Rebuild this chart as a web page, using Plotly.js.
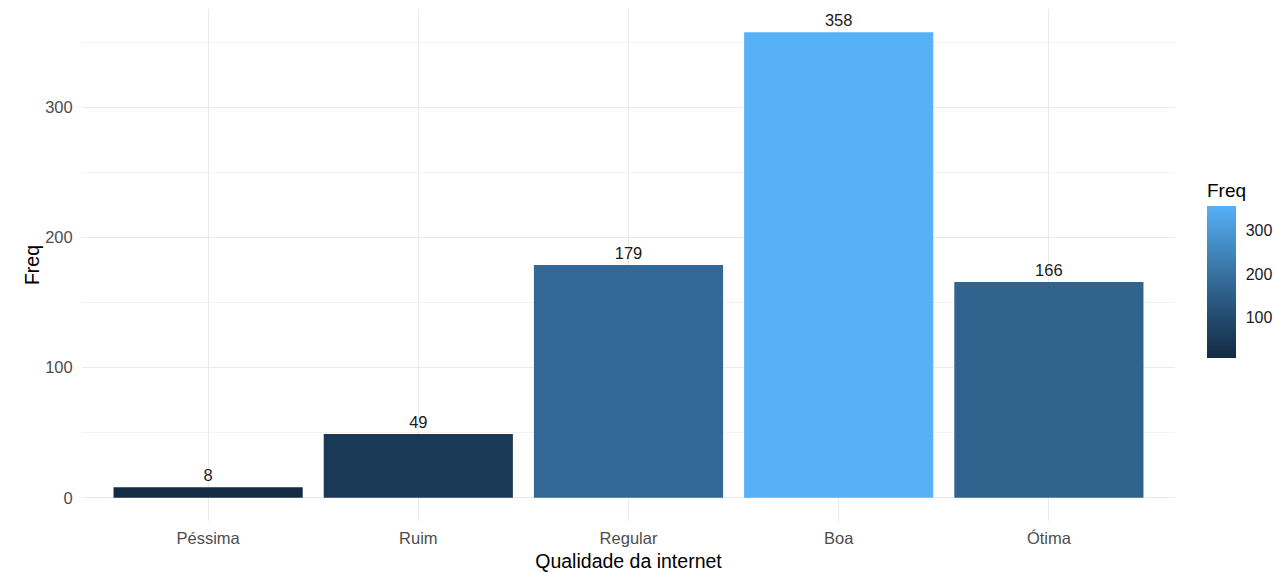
<!DOCTYPE html>
<html><head><meta charset="utf-8">
<script src="https://cdn.plot.ly/plotly-3.0.1.min.js"></script>
<style>html,body{margin:0;padding:0;background:#fff}</style>
</head><body><div id="chart" style="width:1274px;height:572px"></div>
<script>
const categories = ["Péssima", "Ruim", "Regular", "Boa", "Ótima"];
const freq = [8, 49, 179, 358, 166];
const colorTicks = [100, 200, 300];

const fontFam = "Liberation Sans, Arial, sans-serif";
const trace = {
  type: "bar",
  x: categories,
  y: freq,
  width: 0.9,
  text: freq.map(String),
  textposition: "outside",
  cliponaxis: false,
  textfont: {family: fontFam, size: 16.5, color: "#1a1a1a"},
  marker: {
    color: freq,
    cmin: Math.min(...freq),
    cmax: Math.max(...freq),
    colorscale: [[0, "#132B43"], [0.25, "#22496C"], [0.5, "#336A98"], [0.75, "#448DC6"], [1, "#56B1F7"]],
    line: {width: 0},
    showscale: true,
    colorbar: {
      title: {text: "Freq", side: "top", font: {family: fontFam, size: 19, color: "#000"}},
      x: 1.0293, xanchor: "left", xref: "paper",
      y: 0.319, yanchor: "bottom",
      lenmode: "pixels", len: 178,
      thicknessmode: "pixels", thickness: 29,
      outlinewidth: 0,
      tickvals: colorTicks,
      ticks: "outside", ticklen: 7, tickcolor: "rgba(0,0,0,0)", tickwidth: 1,
      tickfont: {family: fontFam, size: 16, color: "#1a1a1a"},
      xpad: 0, ypad: 0
    }
  },
  hoverinfo: "x+y"
};

const layout = {
  width: 1274, height: 572,
  margin: {l: 82, r: 99, t: 9, b: 51, autoexpand: false},
  paper_bgcolor: "#fff", plot_bgcolor: "#fff",
  showlegend: false,
  bargap: 0.1,
  xaxis: {
    range: [-0.6, 4.6],
    showgrid: true, gridcolor: "#EBEBEB", gridwidth: 1,
    zeroline: false, showline: false,
    ticks: "outside", ticklen: 2, tickcolor: "rgba(0,0,0,0)",
    tickfont: {family: fontFam, size: 16.5, color: "#4D4D4D"},
    title: {text: "Qualidade da internet", font: {family: fontFam, size: 19.5, color: "#000"}, standoff: 8}
  },
  yaxis: {
    range: [-17.9, 375.9],
    tickvals: [0, 100, 200, 300],
    showgrid: true, gridcolor: "#EBEBEB", gridwidth: 1,
    minor: {tickvals: [50, 150, 250, 350], showgrid: true, gridcolor: "#F3F3F3", gridwidth: 1},
    zeroline: false, showline: false,
    ticks: "outside", ticklen: 5, tickcolor: "rgba(0,0,0,0)",
    tickfont: {family: fontFam, size: 16.5, color: "#4D4D4D"},
    title: {text: "Freq", font: {family: fontFam, size: 19.5, color: "#000"}, standoff: 0}
  }
};

Plotly.newPlot("chart", [trace], layout, {displayModeBar: false, staticPlot: true});
</script>
</body></html>
